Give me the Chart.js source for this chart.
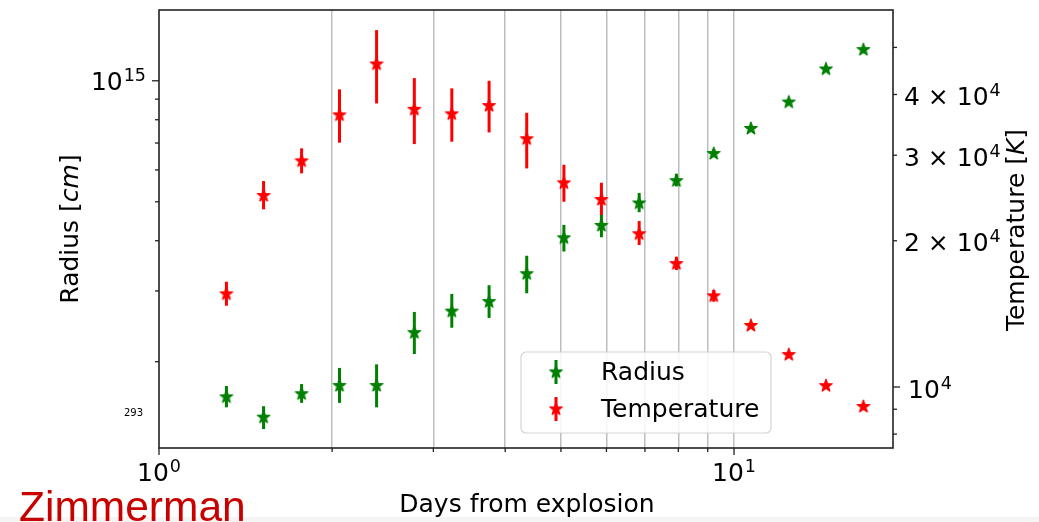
<!DOCTYPE html>
<html>
<head>
<meta charset="utf-8">
<script src="https://cdn.jsdelivr.net/npm/chart.js@4"></script>
<style>
  html, body { margin: 0; padding: 0; background: #fff; }
  #wrap { position: relative; width: 1039px; height: 522px; }
</style>
</head>
<body>
<div id="wrap"><canvas id="chart"></canvas></div>
<script>
// ── Data ───────────────────────────────────────────────────────────
const days = [1.31, 1.52, 1.77, 2.06, 2.39, 2.78, 3.23, 3.75, 4.36,
              5.06, 5.88, 6.84, 7.94, 9.22, 10.70, 12.45, 14.45, 16.79];

// radius [cm]
const radius   = [1.64e14, 1.46e14, 1.67e14, 1.75e14, 1.75e14, 2.37e14, 2.68e14, 2.83e14, 3.32e14,
                  4.08e14, 4.38e14, 4.98e14, 5.66e14, 6.61e14, 7.63e14, 8.88e14, 1.073e15, 1.199e15];
const radiusLo = [1.54e14, 1.36e14, 1.58e14, 1.58e14, 1.54e14, 2.09e14, 2.43e14, 2.57e14, 2.96e14,
                  3.76e14, 4.08e14, 4.71e14, 5.46e14, 6.48e14, 7.56e14, 8.82e14, 1.068e15, 1.194e15];
const radiusHi = [1.74e14, 1.55e14, 1.76e14, 1.93e14, 1.97e14, 2.66e14, 2.95e14, 3.10e14, 3.67e14,
                  4.38e14, 4.64e14, 5.26e14, 5.87e14, 6.75e14, 7.70e14, 8.94e14, 1.078e15, 1.204e15];

// temperature [K]
const temp   = [15590, 24840, 29280, 36400, 46340, 37370, 36580, 38040, 32500,
                26380, 24370, 20720, 17990, 15440, 13420, 11690, 10090, 9140];
const tempLo = [14700, 23210, 27530, 31830, 38340, 31620, 31980, 33420, 28180,
                24060, 22590, 19600, 17410, 14980, 13300, 11600, 10020, 9080];
const tempHi = [16470, 26540, 30990, 40990, 54270, 43230, 41180, 42680, 36680,
                28670, 26330, 21960, 18540, 15830, 13540, 11780, 10160, 9200];

// tick values and labels: [mantissa text, exponent]
const xTicks   = [1, 2, 3, 4, 5, 6, 7, 8, 9, 10];
const xLabels  = { 1: ['10', '0'], 10: ['10', '1'] };
const rTicks   = [2e14, 3e14, 4e14, 5e14, 6e14, 7e14, 8e14, 9e14, 1e15];
const rLabels  = { 1e15: ['10', '15'] };
const tTicks   = [8000, 9000, 10000, 20000, 30000, 40000, 50000];
const tLabels  = { 10000: ['10', '4'], 20000: ['2 × 10', '4'], 30000: ['3 × 10', '4'], 40000: ['4 × 10', '4'] };

const GREEN = '#008000';
const RED   = '#ff0000';
const FONT  = '"DejaVu Sans", sans-serif';

// ── Star marker (matplotlib '*') ───────────────────────────────────
function starImage(color) {
  const c = document.createElement('canvas');
  c.width = 18; c.height = 18;
  const g = c.getContext('2d');
  const R = 6.6, r = R * 0.40;
  g.beginPath();
  for (let i = 0; i < 10; i++) {
    const a = -Math.PI / 2 + i * Math.PI / 5;
    const rr = i % 2 ? r : R;
    g.lineTo(9 + rr * Math.cos(a), 9.6 + rr * Math.sin(a));
  }
  g.closePath();
  g.fillStyle = color; g.fill();
  g.strokeStyle = color; g.lineWidth = 1.2; g.lineJoin = 'round'; g.stroke();
  return c;
}
const greenStar = starImage(GREEN);
const redStar   = starImage(RED);

// ── Helpers ────────────────────────────────────────────────────────
function errorBars(chart, lo, hi, axisId, color) {
  const ctx = chart.ctx, xs = chart.scales.x, ys = chart.scales[axisId], a = chart.chartArea;
  ctx.save();
  ctx.beginPath();
  ctx.rect(a.left, a.top, a.right - a.left, a.bottom - a.top);
  ctx.clip();
  ctx.strokeStyle = color; ctx.lineWidth = 3;
  days.forEach((d, i) => {
    const px = xs.getPixelForValue(d);
    ctx.beginPath();
    ctx.moveTo(px, ys.getPixelForValue(lo[i]));
    ctx.lineTo(px, ys.getPixelForValue(hi[i]));
    ctx.stroke();
  });
  ctx.restore();
}

// "10" + raised exponent, like matplotlib mathtext
function powLabel(ctx, lab, x, baseY, align) {
  ctx.font = '25px ' + FONT;
  const w1 = ctx.measureText(lab[0]).width;
  ctx.font = '17.5px ' + FONT;
  const w2 = ctx.measureText(lab[1]).width;
  const tot = w1 + w2 + 1;
  let sx = align === 'left' ? x : align === 'right' ? x - tot : x - tot / 2;
  ctx.textAlign = 'left'; ctx.textBaseline = 'alphabetic';
  ctx.font = '25px ' + FONT;
  ctx.fillText(lab[0], sx, baseY);
  ctx.font = '17.5px ' + FONT;
  ctx.fillText(lab[1], sx + w1 + 1, baseY - 9);
}

function mixedTitle(ctx, parts, cx, cy) {
  ctx.save();
  ctx.translate(cx, cy); ctx.rotate(-Math.PI / 2);
  ctx.textAlign = 'left'; ctx.textBaseline = 'alphabetic';
  const widths = parts.map(([t, it]) => { ctx.font = (it ? 'italic ' : '') + '25px ' + FONT; return ctx.measureText(t).width; });
  let sx = -widths.reduce((s, w) => s + w, 0) / 2;
  parts.forEach(([t, it], i) => {
    ctx.font = (it ? 'italic ' : '') + '25px ' + FONT;
    ctx.fillText(t, sx, 0); sx += widths[i];
  });
  ctx.restore();
}

const decorPlugin = {
  id: 'decor',
  beforeDatasetDraw(chart, args) {
    if (args.index === 0) errorBars(chart, radiusLo, radiusHi, 'y', GREEN);
    else errorBars(chart, tempLo, tempHi, 'y2', RED);
  },
  afterDraw(chart) {
    const ctx = chart.ctx, a = chart.chartArea;
    const xs = chart.scales.x, yl = chart.scales.y, yr = chart.scales.y2;
    ctx.save();

    // legend
    const lx = 521, ly = 352, lw = 250, lh = 81;
    ctx.beginPath();
    ctx.roundRect(lx, ly, lw, lh, 5);
    ctx.fillStyle = 'rgba(255,255,255,0.85)'; ctx.fill();
    ctx.strokeStyle = '#d4d4d4'; ctx.lineWidth = 1.2; ctx.stroke();
    [[372, GREEN, greenStar, 'Radius'], [409, RED, redStar, 'Temperature']].forEach(([cy, col, img, txt]) => {
      ctx.strokeStyle = col; ctx.lineWidth = 3;
      ctx.beginPath(); ctx.moveTo(556, cy - 12); ctx.lineTo(556, cy + 12); ctx.stroke();
      ctx.drawImage(img, 547, cy - 9.6);
      ctx.fillStyle = '#000'; ctx.font = '25px ' + FONT;
      ctx.textAlign = 'left'; ctx.textBaseline = 'middle';
      ctx.fillText(txt, 601, cy + 1);
    });

    // frame
    ctx.strokeStyle = '#222'; ctx.lineWidth = 1.6;
    ctx.strokeRect(a.left, a.top, a.right - a.left, a.bottom - a.top);

    // tick marks + labels
    ctx.lineWidth = 1.3; ctx.fillStyle = '#000';
    xTicks.forEach(v => {
      const px = xs.getPixelForValue(v), len = xLabels[v] ? 7 : 4;
      ctx.beginPath(); ctx.moveTo(px, a.bottom); ctx.lineTo(px, a.bottom + len); ctx.stroke();
      if (xLabels[v]) powLabel(ctx, xLabels[v], px, a.bottom + 33, 'center');
    });
    rTicks.forEach(v => {
      const py = yl.getPixelForValue(v), len = rLabels[v] ? 7 : 4;
      ctx.beginPath(); ctx.moveTo(a.left, py); ctx.lineTo(a.left - len, py); ctx.stroke();
      if (rLabels[v]) powLabel(ctx, rLabels[v], a.left - 13, py + 9.5, 'right');
    });
    tTicks.forEach(v => {
      const py = yr.getPixelForValue(v), len = v === 10000 ? 7 : 4;
      ctx.beginPath(); ctx.moveTo(a.right, py); ctx.lineTo(a.right + len, py); ctx.stroke();
      if (tLabels[v]) powLabel(ctx, tLabels[v], v === 10000 ? a.right + 15 : a.right + 11, py + 10.5, 'left');
    });

    // axis titles
    mixedTitle(ctx, [['Radius [', false], ['cm', true], [']', false]], 78, 229);
    mixedTitle(ctx, [['Temperature [', false], ['K', true], [']', false]], 1024, 230);
    ctx.textAlign = 'center'; ctx.textBaseline = 'alphabetic';
    ctx.font = '25px ' + FONT;
    ctx.fillText('Days from explosion', 527, 512);

    // stray small label on the left axis
    ctx.textAlign = 'right'; ctx.textBaseline = 'middle';
    ctx.font = '10px ' + FONT;
    ctx.fillText('293', 143, 413);

    // name at the bottom
    ctx.fillStyle = '#f5f5f5';
    ctx.fillRect(0, 517, 1039, 5);
    ctx.fillStyle = '#c80000';
    ctx.textAlign = 'left'; ctx.textBaseline = 'alphabetic';
    ctx.font = '42.5px "Liberation Sans", Arial, sans-serif';
    ctx.fillText('Zimmerman', 19, 521);
    ctx.restore();
  }
};

// ── Chart ──────────────────────────────────────────────────────────
const noPad = s => { s.paddingTop = 0; s.paddingBottom = 0; s.paddingLeft = 0; s.paddingRight = 0; };

new Chart(document.getElementById('chart'), {
  type: 'scatter',
  data: {
    datasets: [
      { label: 'Radius', data: days.map((d, i) => ({ x: d, y: radius[i] })),
        yAxisID: 'y', pointStyle: greenStar, pointRadius: 9, order: 1 },
      { label: 'Temperature', data: days.map((d, i) => ({ x: d, y: temp[i] })),
        yAxisID: 'y2', pointStyle: redStar, pointRadius: 9, order: 0 }
    ]
  },
  options: {
    responsive: true, maintainAspectRatio: false, animation: false,
    layout: { padding: { top: 10, left: 0, right: 0, bottom: 0 } },
    plugins: { legend: { display: false }, tooltip: { enabled: false } },
    scales: {
      x: {
        type: 'logarithmic', min: 1, max: 18.9,
        afterBuildTicks: s => { s.ticks = xTicks.map(v => ({ value: v })); },
        afterFit: s => { s.height = 74; noPad(s); },
        ticks: { display: false },
        grid: { color: c => c.tick && c.tick.value === 1 ? 'rgba(0,0,0,0)' : '#bdbdbd',
                lineWidth: 1.5, drawTicks: false },
        border: { display: false }
      },
      y: {
        type: 'logarithmic', position: 'left', min: 1.22e14, max: 1.50e15,
        afterBuildTicks: s => { s.ticks = rTicks.map(v => ({ value: v })); },
        afterFit: s => { s.width = 159; noPad(s); },
        ticks: { display: false },
        grid: { display: false },
        border: { display: false }
      },
      y2: {
        type: 'logarithmic', position: 'right', min: 7490, max: 59700,
        afterBuildTicks: s => { s.ticks = tTicks.map(v => ({ value: v })); },
        afterFit: s => { s.width = 146; noPad(s); },
        ticks: { display: false },
        grid: { display: false },
        border: { display: false }
      }
    }
  },
  plugins: [decorPlugin]
});
</script>
</body>
</html>
